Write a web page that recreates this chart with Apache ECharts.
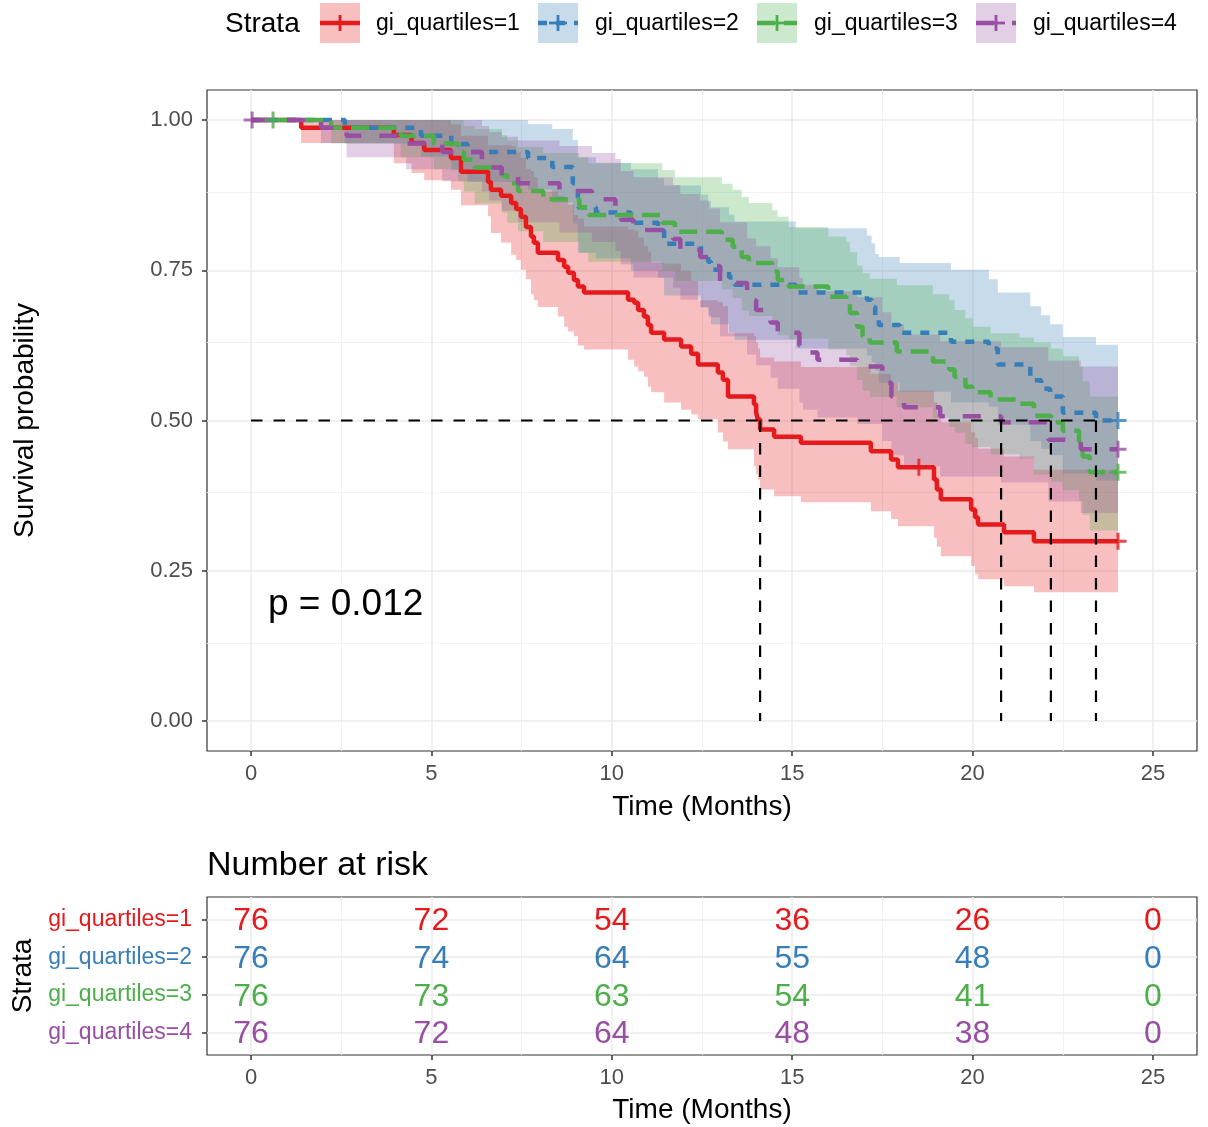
<!DOCTYPE html>
<html><head><meta charset="utf-8">
<script src="https://cdn.jsdelivr.net/npm/echarts@6/dist/echarts.min.js"></script>
<style>html,body{margin:0;padding:0;background:#fff}#c{width:1208px;height:1127px}</style>
</head><body><div id="c"></div>
<script>
const FONT = '"Liberation Sans", Arial, Helvetica, sans-serif';
const strata = ['gi_quartiles=1','gi_quartiles=2','gi_quartiles=3','gi_quartiles=4'];
const colors = ['#E41A1C','#377EB8','#4DAF4A','#984EA3'];
const fills = ['rgba(228,26,28,0.28)','rgba(55,126,184,0.28)','rgba(77,175,74,0.28)','rgba(152,78,163,0.28)'];
const xTicks = [0,5,10,15,20,25];
const xMinor = [2.5,7.5,12.5,17.5,22.5];
const yTicks = [0,0.25,0.5,0.75,1];
const yMinor = [0.125,0.375,0.625,0.875];
const endTime = 24.03;

// gi_quartiles=1
const t1 = [0,1.39,3.96,4.45,4.80,5.54,5.82,6.57,6.65,6.93,7.21,7.35,7.48,7.62,7.76,7.84,7.95,8.51,8.68,8.79,8.95,9.06,9.23,10.45,10.62,10.73,10.89,11.00,11.09,11.45,11.92,12.20,12.39,12.94,13.08,13.22,13.94,14.00,14.05,14.11,14.50,15.24,17.18,17.74,17.93,18.93,19.01,19.12,19.96,20.07,20.15,20.87,21.70];
const s1 = [1,.987,.975,.962,.950,.937,.914,.897,.884,.874,.862,.852,.839,.822,.806,.796,.779,.767,.756,.746,.734,.723,.713,.701,.696,.684,.673,.659,.646,.635,.623,.611,.593,.580,.568,.540,.527,.513,.502,.485,.473,.463,.449,.435,.422,.402,.385,.369,.352,.339,.327,.314,.299];
const lo1 = [1,.962,.928,.912,.900,.884,.858,.840,.812,.796,.776,.767,.751,.735,.710,.700,.689,.673,.656,.648,.640,.625,.618,.601,.590,.582,.573,.556,.547,.530,.518,.510,.502,.480,.465,.452,.424,.410,.402,.385,.374,.364,.349,.336,.324,.305,.290,.274,.258,.244,.236,.224,.214];
const up1 = [1,1,1,1,1,.993,.974,.958,.958,.958,.956,.946,.937,.919,.915,.905,.881,.874,.871,.859,.842,.836,.823,.818,.815,.804,.790,.781,.763,.761,.749,.732,.700,.697,.690,.645,.640,.630,.620,.605,.598,.589,.578,.563,.550,.530,.511,.497,.480,.471,.453,.440,.418];
// gi_quartiles=2
const t2 = [0,2.6,4.71,5.55,6.0,7.68,8.35,8.92,9.06,9.56,10.53,11.28,11.45,12.47,12.67,12.75,13.25,13.40,15.1,17.07,17.2,17.3,17.4,17.98,19.4,20.45,20.70,21.6,21.9,22.15,22.5,23.42];
const s2 = [1,.987,.974,.960,.947,.937,.922,.895,.855,.846,.829,.816,.794,.777,.764,.751,.738,.726,.713,.701,.689,.673,.659,.646,.631,.620,.593,.567,.553,.540,.513,.500];
const lo2 = [1,.961,.939,.917,.897,.884,.863,.828,.779,.770,.749,.737,.708,.689,.675,.660,.646,.634,.620,.608,.597,.583,.563,.548,.530,.523,.493,.466,.453,.442,.412,.400];
const up2 = [1,1,1,1,1,.993,.985,.967,.938,.929,.918,.903,.891,.876,.865,.855,.843,.831,.820,.808,.795,.777,.772,.762,.751,.735,.713,.690,.675,.660,.639,.626];
// gi_quartiles=3
const t3 = [0,2.22,4.15,5.07,5.74,5.9,6.2,6.95,7.1,7.4,8.1,9.1,9.35,11.4,11.75,13.05,13.35,13.6,13.8,14.45,14.6,14.9,16.0,16.5,16.6,16.8,16.95,17.15,17.9,18.9,19.35,19.5,19.8,20.0,20.5,21.3,21.7,22.17,22.5,22.95,23.05,23.25];
const s3 = [1,.987,.974,.961,.947,.934,.921,.908,.895,.882,.868,.855,.842,.829,.814,.801,.789,.772,.762,.748,.734,.723,.706,.696,.679,.656,.640,.630,.615,.598,.585,.573,.556,.547,.535,.528,.508,.497,.483,.465,.440,.414];
const lo3 = [1,.961,.938,.918,.898,.881,.861,.846,.829,.815,.797,.779,.764,.749,.732,.718,.704,.683,.674,.658,.642,.636,.618,.608,.591,.568,.550,.539,.522,.504,.489,.480,.461,.456,.444,.437,.410,.398,.384,.366,.343,.317];
const up3 = [1,1,1,1,1,.990,.985,.975,.966,.955,.945,.938,.928,.917,.905,.894,.884,.872,.862,.850,.839,.822,.806,.797,.780,.758,.745,.736,.725,.710,.700,.684,.670,.656,.645,.638,.630,.620,.607,.590,.565,.540];
// gi_quartiles=4
const t4 = [0,1.94,2.65,4.3,5.3,6.4,6.6,6.95,7.4,8.55,9.45,10.1,10.25,10.6,11.7,11.9,12.45,12.7,13.0,13.75,14.0,14.4,14.6,15.2,15.3,15.7,16.8,17.5,17.75,18.1,19.1,20.79,22.1,23.0];
const s4 = [1,.987,.974,.961,.947,.934,.921,.908,.895,.882,.868,.855,.834,.817,.802,.784,.772,.757,.729,.700,.684,.663,.646,.625,.613,.601,.590,.563,.540,.522,.507,.497,.468,.452];
const lo4 = [1,.962,.938,.918,.898,.881,.866,.849,.830,.813,.797,.782,.760,.738,.721,.701,.688,.672,.640,.610,.592,.571,.553,.530,.518,.505,.494,.466,.442,.424,.407,.397,.365,.346];
const up4 = [1,1,1,1,1,.990,.980,.972,.966,.957,.945,.935,.915,.905,.892,.877,.866,.853,.830,.803,.790,.770,.755,.737,.726,.715,.705,.680,.660,.643,.632,.622,.600,.590];

const censor1 = [[18.51,0.422],[24.03,0.299]];
const censor2 = [[24.03,0.500]];
const censor3 = [[0.61,1.0],[24.03,0.414]];
const censor4 = [[0.03,1.0],[24.03,0.452]];
const medians = [14.11,20.79,22.17,23.42];

const riskTimes = [0,5,10,15,20,25];
const risk1 = [76,72,54,36,26,0];
const risk2 = [76,74,64,55,48,0];
const risk3 = [76,73,63,54,41,0];
const risk4 = [76,72,64,48,38,0];
const pValueText = 'p = 0.012';

const T=[t1,t2,t3,t4], S=[s1,s2,s3,s4], LO=[lo1,lo2,lo3,lo4], UP=[up1,up2,up3,up4];
const CENS=[censor1,censor2,censor3,censor4], RISK=[risk1,risk2,risk3,risk4];
const dashes = ['solid',[9,9],[18,9],[18,18]];
const lw = 4.5;
const plusPath = 'path://M6.6,0h2.8v16h-2.8z M0,6.6h16v2.8h-16z';

const series = [];
function gridLines(gi, xs, xm, ys, ym){
  const d=[];
  xm.forEach(v=>d.push({xAxis:v, lineStyle:{color:'#F0F0F0',width:0.9,type:'solid'}}));
  ym.forEach(v=>d.push({yAxis:v, lineStyle:{color:'#F0F0F0',width:0.9,type:'solid'}}));
  xs.forEach(v=>d.push({xAxis:v, lineStyle:{color:'#EBEBEB',width:1.5,type:'solid'}}));
  ys.forEach(v=>d.push({yAxis:v, lineStyle:{color:'#EBEBEB',width:1.5,type:'solid'}}));
  series.push({type:'line', xAxisIndex:gi, yAxisIndex:gi, data:[], silent:true, z:0,
    markLine:{z:0, silent:true, symbol:['none','none'], label:{show:false}, animation:false, data:d}});
}
gridLines(0, xTicks, xMinor, yTicks, yMinor);
gridLines(1, xTicks, xMinor, [1,2,3,4], []);

// confidence bands
for(let k=0;k<4;k++){
  const t=T[k], lo=LO[k], up=UP[k];
  series.push({type:'custom', xAxisIndex:0, yAxisIndex:0, silent:true, z:2, clip:false,
    data:[[0,0]],
    renderItem:(params, api)=>{
      const pts=[];
      for(let i=0;i<t.length;i++){
        const tn = i+1<t.length ? t[i+1] : endTime;
        pts.push(api.coord([t[i], up[i]])); pts.push(api.coord([tn, up[i]]));
      }
      for(let i=t.length-1;i>=0;i--){
        const tn = i+1<t.length ? t[i+1] : endTime;
        pts.push(api.coord([tn, lo[i]])); pts.push(api.coord([t[i], lo[i]]));
      }
      return {type:'polygon', shape:{points:pts}, style:{fill:fills[k]}};
    }});
}
// survival curves
for(let k=0;k<4;k++){
  const d = T[k].map((v,i)=>[v,S[k][i]]);
  d.push([endTime, S[k][S[k].length-1]]);
  series.push({type:'line', name:strata[k], xAxisIndex:0, yAxisIndex:0, step:'end', data:d,
    showSymbol:false, symbol:'none', silent:true, z:3, clip:false,
    lineStyle:{color:colors[k], width:lw, type:dashes[k]}});
}
// censor marks
for(let k=0;k<4;k++){
  series.push({type:'scatter', xAxisIndex:0, yAxisIndex:0, data:CENS[k], symbol:plusPath,
    symbolSize:[17,17], itemStyle:{color:colors[k]}, silent:true, z:4, clip:false});
}
// median lines
series.push({type:'line', xAxisIndex:0, yAxisIndex:0, data:[[0,0.5],[medians[medians.length-1],0.5]],
  symbol:'none', silent:true, z:5, lineStyle:{color:'#000', width:2.2, type:[11.5,11]}});
medians.forEach(m=>{
  series.push({type:'line', xAxisIndex:0, yAxisIndex:0, data:[[m,0.5],[m,0]],
    symbol:'none', silent:true, z:5, lineStyle:{color:'#000', width:2.2, type:[11.5,11]}});
});
// risk table numbers
for(let k=0;k<4;k++){
  series.push({type:'custom', xAxisIndex:1, yAxisIndex:1, silent:true, z:3, clip:false,
    data: riskTimes.map((t,i)=>[t, k+1, RISK[k][i]]),
    renderItem:(params, api)=>{
      const p = api.coord([api.value(0), api.value(1)]);
      return {type:'text', x:p[0], y:p[1]+2, style:{text:String(api.value(2)), fill:colors[k],
        fontSize:32, fontFamily:FONT, align:'center', verticalAlign:'middle'}};
    }});
}

const axisLabelBase = {fontSize:22, color:'#4D4D4D', fontFamily:FONT};
const tickBase = {show:true, length:5, lineStyle:{color:'#333', width:1.5}};
const noLine = {show:false, onZero:false};

const graphic = [];
graphic.push({type:'text', x:225, y:24, style:{text:'Strata', fontSize:28, fontFamily:FONT, fill:'#000', verticalAlign:'middle', align:'left'}});
const keyX=[320,538,757,976], textX=[376,595,814,1033];
for(let k=0;k<4;k++){
  graphic.push({type:'rect', shape:{x:keyX[k], y:3, width:40, height:40}, style:{fill:fills[k]}});
  graphic.push({type:'line', shape:{x1:keyX[k], y1:23, x2:keyX[k]+40, y2:23},
    style:{stroke:colors[k], lineWidth:lw, lineDash: dashes[k]==='solid'?null:dashes[k]}});
  graphic.push({type:'line', shape:{x1:keyX[k]+20, y1:15, x2:keyX[k]+20, y2:31}, style:{stroke:colors[k], lineWidth:2.8}});
  graphic.push({type:'line', shape:{x1:keyX[k]+11, y1:23, x2:keyX[k]+29, y2:23}, style:{stroke:colors[k], lineWidth:2.8}});
  graphic.push({type:'text', x:textX[k], y:24, style:{text:strata[k], fontSize:23, fontFamily:FONT, fill:'#000', verticalAlign:'middle', align:'left'}});
}
graphic.push({type:'text', x:268, y:605, z:10, style:{text:pValueText, fontSize:37, fontFamily:FONT, fill:'#000', verticalAlign:'middle', align:'left'}});
graphic.push({type:'text', x:207, y:866, style:{text:'Number at risk', fontSize:34, fontFamily:FONT, fill:'#000', verticalAlign:'middle', align:'left'}});

const option = {
  animation:false,
  backgroundColor:'#fff',
  textStyle:{fontFamily:FONT},
  grid:[
    {left:207, top:90, width:990, height:661, show:true, borderColor:'#333', borderWidth:1.2, backgroundColor:'#fff', containLabel:false},
    {left:207, top:897, width:990, height:158, show:true, borderColor:'#333', borderWidth:1.2, backgroundColor:'#fff', containLabel:false}
  ],
  xAxis:[
    {gridIndex:0, type:'value', position:'bottom', min:-1.22, max:26.22, axisLine:noLine, splitLine:{show:false},
     axisTick:Object.assign({customValues:xTicks}, tickBase),
     axisLabel:Object.assign({customValues:xTicks, margin:12}, axisLabelBase),
     name:'Time (Months)', nameLocation:'middle', nameGap:42, nameTextStyle:{fontSize:28, color:'#000', fontFamily:FONT}},
    {gridIndex:1, type:'value', position:'bottom', min:-1.22, max:26.22, axisLine:noLine, splitLine:{show:false},
     axisTick:Object.assign({customValues:xTicks}, tickBase),
     axisLabel:Object.assign({customValues:xTicks, margin:12}, axisLabelBase),
     name:'Time (Months)', nameLocation:'middle', nameGap:41, nameTextStyle:{fontSize:28, color:'#000', fontFamily:FONT}}
  ],
  yAxis:[
    {gridIndex:0, type:'value', position:'left', min:-0.05, max:1.05, axisLine:noLine, splitLine:{show:false},
     axisTick:Object.assign({customValues:yTicks}, tickBase),
     axisLabel:Object.assign({customValues:yTicks, margin:14, formatter:v=>Number(v).toFixed(2)}, axisLabelBase),
     name:'Survival probability', nameLocation:'middle', nameGap:168, nameTextStyle:{fontSize:28, color:'#000', fontFamily:FONT}},
    {gridIndex:1, type:'value', position:'left', min:0.4, max:4.6, inverse:true, axisLine:noLine, splitLine:{show:false},
     axisTick:Object.assign({customValues:[1,2,3,4]}, tickBase),
     axisLabel:{customValues:[1,2,3,4], margin:15, fontSize:23, fontFamily:FONT,
       formatter:v=>strata[Math.round(Number(v))-1], color:v=>colors[Math.round(Number(v))-1]},
     name:'Strata', nameLocation:'middle', nameGap:168, nameTextStyle:{fontSize:28, color:'#000', fontFamily:FONT}}
  ],
  graphic: graphic,
  series: series
};
const chart = echarts.init(document.getElementById('c'), null, {renderer:'canvas'});
chart.setOption(option);
</script></body></html>
